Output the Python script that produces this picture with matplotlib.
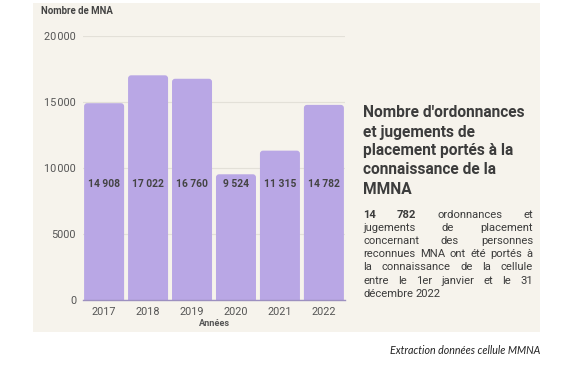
import matplotlib.pyplot as plt
from matplotlib.patches import Rectangle, FancyBboxPatch

years = ['2017', '2018', '2019', '2020', '2021', '2022']
values = [14908, 17022, 16760, 9524, 11315, 14782]
value_labels = ['14 908', '17 022', '16 760', '9 524', '11 315', '14 782']
yticks = [0, 5000, 10000, 15000, 20000]
ytick_labels = ['0', '5000', '10\u200a000', '15\u200a000', '20\u200a000']

title_lines = ["Nombre d'ordonnances", "et jugements de",
               "placement portés à la", "connaissance de la", "MMNA"]
body_lines = ["14 782 ordonnances et", "jugements de placement",
              "concernant des personnes", "reconnues MNA ont été portés à",
              "la connaissance de la cellule", "entre le 1er janvier et le 31",
              "décembre 2022"]

plt.rcParams['font.family'] = ['Roboto', 'DejaVu Sans']

W, H = 570, 365
fig = plt.figure(figsize=(W / 100, H / 100), dpi=100)
fig.patch.set_facecolor('white')

def fx(px): return px / W
def fy(py): return 1 - py / H

# beige panel
fig.patches.append(Rectangle((fx(33), fy(332)), fx(540) - fx(33), fy(3) - fy(332),
                             transform=fig.transFigure, facecolor='#f6f3ec',
                             edgecolor='none', zorder=-5))

ax_w, ax_h = 345 - 83, 300 - 36
ax = fig.add_axes([fx(83), fy(300), ax_w / W, ax_h / H])
ax.set_zorder(2)
ax.set_facecolor('none')
xmin, xmax, ymax = -0.48, 5.48, 20000
ax.set_xlim(xmin, xmax)
ax.set_ylim(0, ymax)
aspect = (ymax / ax_h) / ((xmax - xmin) / ax_w)
bw = 0.91
for xi, v in enumerate(values):
    p = FancyBboxPatch((xi - bw / 2, -600), bw, v + 600,
                       boxstyle='round,pad=0,rounding_size=0.07',
                       mutation_aspect=aspect, facecolor='#b9a7e5',
                       edgecolor='none', zorder=2)
    ax.add_patch(p)
ax.set_yticks(yticks)
ax.set_yticklabels(ytick_labels)
ax.set_xticks(range(len(years)))
ax.set_xticklabels(years)
ax.tick_params(length=0, labelsize=7.8, labelcolor='#555555', pad=5)
ax.tick_params(axis='x', pad=5)
ax.grid(axis='y', color='#e3e0d8', lw=0.8, zorder=1)
for s in ['top', 'right', 'left']:
    ax.spines[s].set_visible(False)
ax.spines['bottom'].set_color('#9d90c0')
ax.spines['bottom'].set_linewidth(1.0)
ax.spines['bottom'].set_zorder(3)
for xi, lab in enumerate(value_labels):
    ax.text(xi, 8800, lab, ha='center', va='center', fontsize=7.4,
            fontweight='bold', color='#444444', zorder=4)

fig.text(fx(41), fy(11), 'Nombre de MNA', fontsize=6.9, fontweight='bold',
         color='#444444', ha='left', va='center')
fig.text(fx(215), fy(323), 'Années', fontsize=6.6, fontweight='bold',
         color='#555555', ha='center', va='center')

for i, line in enumerate(title_lines):
    fig.text(fx(363), fy(113 + i * 19), line, fontsize=11.2, fontweight='bold',
             color='#3c3c3c', ha='left', va='center')

# justified body text
renderer = fig.canvas.get_renderer()
x0, x1 = 363, 533
for i, line in enumerate(body_lines):
    yy = fy(215 + i * 13.1)
    words = line.split(' ')
    if i == 0:
        weights = ['bold', 'bold'] + ['normal'] * (len(words) - 2)
    else:
        weights = ['normal'] * len(words)
    texts = [fig.text(0, yy, w, fontsize=8.1, fontweight=wt, color='#3c3c3c',
                      ha='left', va='center')
             for w, wt in zip(words, weights)]
    widths = [t.get_window_extent(renderer).width for t in texts]
    if i == len(body_lines) - 1:
        gap = 3.0
    else:
        gap = (x1 - x0 - sum(widths)) / (len(words) - 1)
    pos = x0
    for t, wd in zip(texts, widths):
        t.set_x(fx(pos))
        pos += wd + gap

fig.text(fx(540), fy(351), 'Extraction données cellule MMNA', fontsize=7.7,
         style='italic', color='#222222', ha='right', va='center', family='Lato')

fig.savefig('out.png', dpi=100)
